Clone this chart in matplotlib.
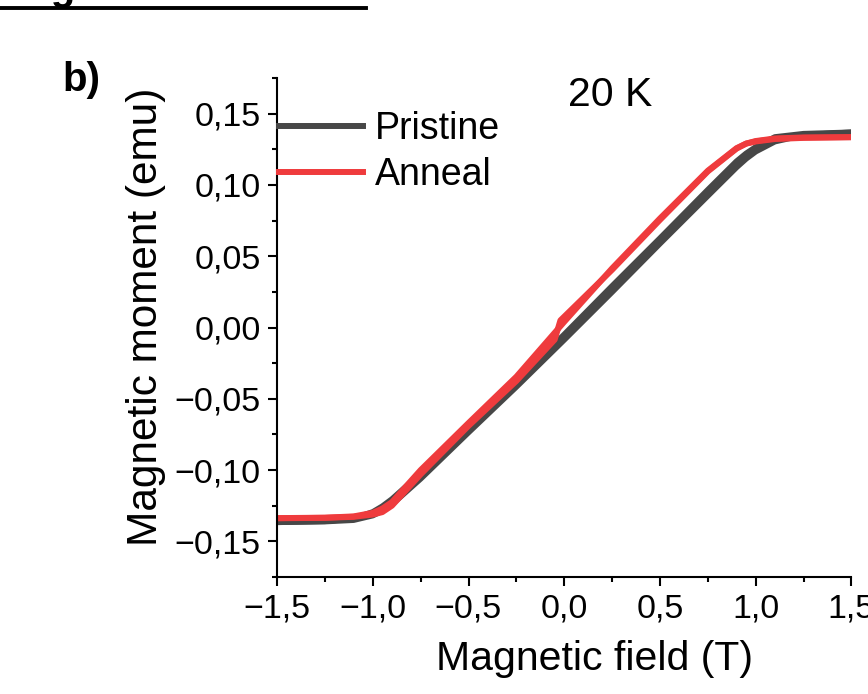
import matplotlib
matplotlib.use("Agg")
import matplotlib.pyplot as plt
from matplotlib.ticker import MultipleLocator, FuncFormatter
from matplotlib.lines import Line2D

plt.rcParams['font.family'] = ['Liberation Sans', 'DejaVu Sans']

# Hysteresis loops at 20 K: field (T) and magnetic moment (emu)
pristine_up_field = [-1.5, -1.25, -1.1, -1.0, -0.95, -0.9, -0.75, -0.5, -0.25, 0.0,
                     0.25, 0.5, 0.75, 0.9, 0.95, 1.0, 1.1, 1.25, 1.5]
pristine_up_moment = [-0.1365, -0.1360, -0.1350, -0.1318, -0.1285, -0.1240, -0.1060, -0.0735,
                      -0.0415, -0.0085, 0.0250, 0.0590, 0.0925, 0.1125, 0.1185, 0.1235,
                      0.1305, 0.1350, 0.1368]
pristine_down_field = [1.5, 1.25, 1.1, 1.0, 0.95, 0.9, 0.75, 0.5, 0.25, 0.0,
                       -0.25, -0.5, -0.75, -0.9, -0.95, -1.0, -1.1, -1.25, -1.5]
pristine_down_moment = [0.1368, 0.1358, 0.1335, 0.1265, 0.1220, 0.1165, 0.0965, 0.0625,
                        0.0290, -0.0050, -0.0385, -0.0700, -0.1025, -0.1205, -0.1255,
                        -0.1295, -0.1340, -0.1358, -0.1365]

anneal_up_field = [-1.5, -1.25, -1.1, -1.0, -0.95, -0.9, -0.75, -0.5, -0.25, -0.05, -0.02,
                   0.25, 0.5, 0.75, 0.9, 0.95, 1.0, 1.1, 1.25, 1.5]
anneal_up_moment = [-0.1338, -0.1335, -0.1328, -0.1312, -0.1295, -0.1250, -0.1030, -0.0690,
                    -0.0375, -0.0085, 0.0050, 0.0405, 0.0755, 0.1095, 0.1255, 0.1290,
                    0.1305, 0.1322, 0.1330, 0.1335]
anneal_down_field = [1.5, 1.25, 1.1, 1.0, 0.95, 0.9, 0.75, 0.5, 0.25, 0.0,
                     -0.25, -0.5, -0.75, -0.9, -0.95, -1.0, -1.1, -1.25, -1.5]
anneal_down_moment = [0.1335, 0.1333, 0.1326, 0.1308, 0.1290, 0.1258, 0.1100, 0.0765,
                      0.0415, 0.0040, -0.0345, -0.0670, -0.1000, -0.1225, -0.1270,
                      -0.1300, -0.1325, -0.1334, -0.1337]

series_labels = ["Pristine", "Anneal"]
temperature_label = "20 K"
x_ticks = [-1.5, -1.0, -0.5, 0.0, 0.5, 1.0, 1.5]
y_ticks = [-0.15, -0.10, -0.05, 0.00, 0.05, 0.10, 0.15]

GRAY = "#474747"
RED = "#ef3b3d"

W, H = 868, 694
fig = plt.figure(figsize=(W / 100, H / 100), dpi=100)
ax = fig.add_axes([277 / W, 1 - 577 / H, (851.5 - 277) / W, (577 - 78) / H])

lw = 4.3
ax.plot(pristine_up_field, pristine_up_moment, color=GRAY, lw=lw, solid_capstyle='butt')
ax.plot(pristine_down_field, pristine_down_moment, color=GRAY, lw=lw, solid_capstyle='butt')
ax.plot(anneal_up_field, anneal_up_moment, color=RED, lw=lw, solid_capstyle='butt')
ax.plot(anneal_down_field, anneal_down_moment, color=RED, lw=lw, solid_capstyle='butt')

ax.set_xlim(-1.5, 1.5)
ax.set_ylim(-0.175, 0.175)

for side in ("top", "right"):
    ax.spines[side].set_visible(False)
for side in ("left", "bottom"):
    ax.spines[side].set_linewidth(1.5)

ax.set_xticks(x_ticks)
ax.set_yticks(y_ticks)
ax.xaxis.set_minor_locator(MultipleLocator(0.25))
ax.yaxis.set_minor_locator(MultipleLocator(0.025))


def comma_fmt(decimals):
    def f(v, pos):
        s = f"{abs(v):.{decimals}f}".replace(".", ",")
        return ("\u2212" + s) if v < -1e-12 else s
    return FuncFormatter(f)


ax.xaxis.set_major_formatter(comma_fmt(1))
ax.yaxis.set_major_formatter(comma_fmt(2))
ax.tick_params(which='major', direction='out', length=6.7, width=1.5, labelsize=24.5, pad=5)
ax.tick_params(which='minor', direction='out', length=3.3, width=1.5)

ax.set_xlabel("Magnetic field (T)", fontsize=29.5, labelpad=11)
ax.xaxis.label.set_x(0.5535)
ax.set_ylabel("Magnetic moment (emu)", fontsize=30.5, labelpad=6)
ax.yaxis.label.set_y(0.522)

handles = [Line2D([0], [0], color=GRAY, lw=4.3), Line2D([0], [0], color=RED, lw=4.3)]
leg = ax.legend(handles, series_labels, loc='upper left',
                bbox_to_anchor=(279 / W, 1 - 111 / H), bbox_transform=fig.transFigure,
                frameon=False, fontsize=27, handlelength=2.25, handletextpad=0.3,
                labelspacing=0.27, borderpad=0, borderaxespad=0)

fig.text(610 / W, 1 - 95 / H, temperature_label, fontsize=29.5, ha='center', va='center')
fig.text(62 / W, 1 - 80 / H, "b)", fontsize=29, fontweight='bold', ha='left', va='center')

# Partial panel heading above, cut by the top edge, with its underline
fig.text(15 / W, 1.0, "Figure", fontsize=29, fontweight='bold', ha='left', va='baseline')
fig.add_artist(Line2D([0, 366 / W], [1 - 8 / H, 1 - 8 / H], color='black', lw=2.8,
                      transform=fig.transFigure))

fig.savefig("out.png", dpi=100)
